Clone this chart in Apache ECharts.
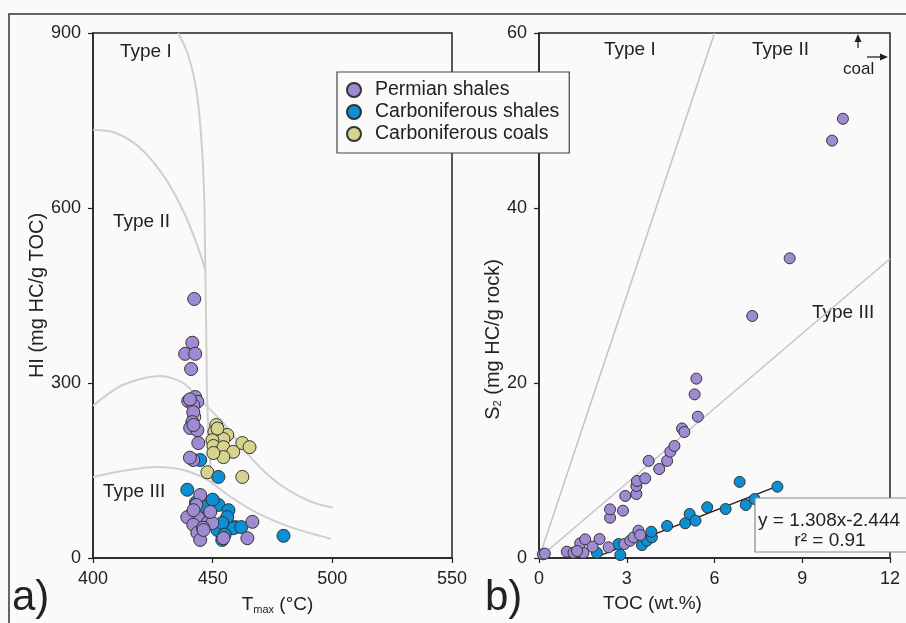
<!DOCTYPE html>
<html><head><meta charset="utf-8">
<script src="https://cdn.jsdelivr.net/npm/echarts@6/dist/echarts.min.js"></script>
<style>html,body{margin:0;padding:0;background:#fafafa}#c{width:906px;height:623px}</style>
</head><body><div id="c"></div>
<script>
// ---- Data ----
const seriesNames = ['Permian shales', 'Carboniferous shales', 'Carboniferous coals'];
const tmaxTicks = [400, 450, 500, 550];
const hiTicks = [0, 300, 600, 900];
const tocTicks = [0, 3, 6, 9, 12];
const s2Ticks = [0, 20, 40, 60];

// Panel a: [Tmax, HI]
const permianTmaxHI = [[442.3,444],[441.5,369],[438.5,350],[442.7,350],[441,324],
  [439.8,269],[442.7,276],[443.6,268],[441.9,262],[440.5,272],[441.9,250],[441.5,233],[440.6,223],
  [443.6,219],[442,228],[444,197],[441.9,168],[440.5,172],
  [444.8,108],[443.2,91],[444,69],[439.4,70],[441.9,57],[443.6,43],[444.8,31],[447.8,60],[449.9,60],
  [449,79],[454.5,34],[464.5,34],[466.6,62],[446,52],[442,82],[446.2,48]];
const carbShaleTmaxHI = [[444.8,168],[452.4,139],[439.4,117],[448.2,93],[452.4,91],[456.6,82],[456.1,70],
  [440.6,72],[447.8,70],[452,48],[459.5,53],[458.6,51],[454,31],[479.6,38],[454,60],[446,88],[450,100],
  [443,95],[455,40],[462,53]];
const carbCoalTmaxHI = [[451.5,228],[450.7,216],[456.1,211],[454.5,204],[449.9,202],[450.3,192],[454.5,190],
  [462.4,197],[465.4,190],[458.6,182],[454.5,173],[450.3,180],[442.3,242],[447.8,147],[462.4,139],[452,222]];

// Panel b: [TOC, S2]
const permianTocS2 = [[0.13,0.42],[0.2,0.5],[0.95,0.72],[1.18,0.6],[1.52,0.6],[1.41,1.68],[1.58,2.13],[1.83,1.3],
  [2.07,2.17],[2.38,1.22],[1.3,0.8],[2.43,4.6],[2.43,5.56],[2.87,5.41],[2.95,7.09],[3.33,7.31],[3.33,8.23],
  [3.35,8.8],[3.63,9.1],[3.75,11.1],[4.11,10.17],[4.38,11.1],[4.49,12.15],[4.63,12.8],[4.89,14.8],[4.97,14.4],
  [5.43,16.15],[5.32,18.7],[5.38,20.5],[7.29,27.66],[8.57,34.25],[10.02,47.7],[10.39,50.2],
  [2.92,1.6],[3.12,1.98],[3.23,2.36],[3.4,3.12],[3.46,2.63]];
const carbShaleTocS2 = [[1.98,0.6],[2.78,0.34],[2.72,1.6],[3.52,1.48],[3.69,1.98],[3.86,2.36],[3.84,3.0],
  [4.38,3.66],[5.0,3.97],[5.15,5.03],[5.35,4.27],[5.75,5.8],[6.86,8.7],[6.38,5.6],[7.07,6.06],[7.37,6.74],[8.15,8.15]];

// Kerogen type boundaries, panel a
const typeIBoundary = [[435.6,900],[439.8,862],[443.2,802],[445.3,717],[446.5,614],[446.9,502],[447.3,391],[447.7,271],[448.6,185],[449.9,125]];
const typeIIBoundary = [[400,734],[409.2,729],[419.7,703],[430.2,651],[438.5,588],[444,531],[446.9,494]];
const upperIIIBoundary = [[400,261],[412.6,297],[428.1,312],[437.7,300],[446.1,266],[454.5,231],[465.8,173],[477.1,129],[489.7,99],[500.1,86]];
const lowerIIIBoundary = [[400,139],[426.8,156],[437.7,151],[447.8,134],[457.4,105],[468.7,77],[482.5,53],[499.3,33]];
// Panel b boundaries
const typeILine = [[0,0],[6,60]];
const typeIIIILine = [[0,0],[12,34.2]];
const regressionLine = [[1.9,1.308*1.9-2.444],[8.0,1.308*8.0-2.444]];

// ---- Chart ----
const FONT = "'Liberation Sans', Arial, sans-serif";
const colors = ['#9f8bd3', '#0b8fd5', '#d6d38f'];
const chart = echarts.init(document.getElementById('c'));

function axisCommon(min, max, interval, gi) {
  return {
    gridIndex: gi, type: 'value', min, max, interval,
    axisLine: {show: true, onZero: false, lineStyle: {color: '#222', width: 1.5}},
    axisTick: {show: true, inside: false, length: 5, lineStyle: {color: '#222', width: 1.2}},
    axisLabel: {color: '#222', fontSize: 18, fontFamily: FONT, margin: 12},
    splitLine: {show: false}
  };
}
function scatter(name, data, xi, color, size) {
  return {type: 'scatter', name, data, xAxisIndex: xi, yAxisIndex: xi, symbolSize: size, z: 5,
    itemStyle: {color, borderColor: '#333', borderWidth: 1, opacity: 1}};
}
function gline(data, xi, width, color, smooth) {
  return {type: 'line', data, xAxisIndex: xi, yAxisIndex: xi, showSymbol: false, symbol: 'none', silent: true,
    smooth, z: 2, lineStyle: {color, width}};
}

const option = {
  backgroundColor: '#fafafa',
  animation: false,
  grid: [
    {left: 93, top: 33, width: 359, height: 525, show: true, borderColor: '#222', borderWidth: 1.5, backgroundColor: 'transparent'},
    {left: 539, top: 33, width: 351, height: 525, show: true, borderColor: '#222', borderWidth: 1.5, backgroundColor: 'transparent'}
  ],
  xAxis: [
    Object.assign(axisCommon(tmaxTicks[0], tmaxTicks[tmaxTicks.length-1], 50, 0), {
      name: '{a|T}{s|max}{a| (°C)}', nameLocation: 'middle', nameGap: 36,
      nameTextStyle: {padding: [0, 0, 0, 10], rich: {a: {fontSize: 19, fontFamily: FONT, color: '#222'}, s: {fontSize: 11, fontFamily: FONT, color: '#222', padding: [10,0,0,0]}}}
    }),
    Object.assign(axisCommon(tocTicks[0], tocTicks[tocTicks.length-1], 3, 1), {
      name: 'TOC (wt.%)', nameLocation: 'middle', nameGap: 36,
      nameTextStyle: {fontSize: 19, fontFamily: FONT, color: '#222', padding: [0, 124, 0, 0]}
    })
  ],
  yAxis: [
    Object.assign(axisCommon(hiTicks[0], hiTicks[hiTicks.length-1], 300, 0), {
      name: 'HI (mg HC/g TOC)', nameLocation: 'middle', nameGap: 24,
      nameTextStyle: {fontSize: 20, fontFamily: FONT, color: '#222', padding: [0, 0, 0, 0]}
    }),
    Object.assign(axisCommon(s2Ticks[0], s2Ticks[s2Ticks.length-1], 20, 1), {
      name: '{a|S}{s|2}{a| (mg HC/g rock)}', nameLocation: 'middle', nameGap: 22,
      nameTextStyle: {padding: [0, 88, 0, 0], rich: {a: {fontSize: 20, fontFamily: FONT, color: '#222'}, s: {fontSize: 11, fontFamily: FONT, color: '#222', padding: [9,0,0,0]}}}
    })
  ],
  legend: {
    data: seriesNames.map(n => ({name: n, icon: 'circle'})),
    orient: 'vertical', left: 337, top: 72, width: 231,
    padding: [8, 10, 9, 9], itemGap: 2, itemWidth: 14, itemHeight: 14,
    backgroundColor: '#fafafa', borderColor: '#444', borderWidth: 1.2,
    textStyle: {fontSize: 19.5, fontFamily: FONT, color: '#222', padding: [0, 0, 0, 9]},
    selectedMode: false, z: 10
  },
  series: [
    gline(typeIBoundary, 0, 2, '#cfcfcf', 0.3),
    gline(typeIIBoundary, 0, 2, '#cfcfcf', 0.3),
    gline(upperIIIBoundary, 0, 2, '#cfcfcf', 0.3),
    gline(lowerIIIBoundary, 0, 2, '#cfcfcf', 0.3),
    gline(typeILine, 1, 1.5, '#c4c4c4', false),
    gline(typeIIIILine, 1, 1.5, '#c4c4c4', false),
    Object.assign(gline(regressionLine, 1, 1.5, '#222', false), {z: 4}),
    scatter(seriesNames[2], carbCoalTmaxHI, 0, colors[2], 13),
    scatter(seriesNames[1], carbShaleTmaxHI, 0, colors[1], 13),
    scatter(seriesNames[0], permianTmaxHI, 0, colors[0], 13),
    scatter(seriesNames[1], carbShaleTocS2, 1, colors[1], 11),
    scatter(seriesNames[0], permianTocS2, 1, colors[0], 11)
  ],
  graphic: [
    {type: 'rect', shape: {x: 9, y: 14, width: 910, height: 620}, style: {fill: 'none', stroke: '#333', lineWidth: 1.5}, z: 1},
    {type: 'text', x: 12, y: 598, style: {text: 'a)', fontSize: 42, fontFamily: FONT, fill: '#222', textVerticalAlign: 'middle'}},
    {type: 'text', x: 485, y: 598, style: {text: 'b)', fontSize: 42, fontFamily: FONT, fill: '#222', textVerticalAlign: 'middle'}},
    {type: 'text', x: 120, y: 52, style: {text: 'Type I', fontSize: 19, fontFamily: FONT, fill: '#222', textVerticalAlign: 'middle'}},
    {type: 'text', x: 113, y: 222, style: {text: 'Type II', fontSize: 19, fontFamily: FONT, fill: '#222', textVerticalAlign: 'middle'}},
    {type: 'text', x: 103, y: 492, style: {text: 'Type III', fontSize: 19, fontFamily: FONT, fill: '#222', textVerticalAlign: 'middle'}},
    {type: 'text', x: 604, y: 50, style: {text: 'Type I', fontSize: 19, fontFamily: FONT, fill: '#222', textVerticalAlign: 'middle'}},
    {type: 'text', x: 752, y: 50, style: {text: 'Type II', fontSize: 19, fontFamily: FONT, fill: '#222', textVerticalAlign: 'middle'}},
    {type: 'text', x: 812, y: 313, style: {text: 'Type III', fontSize: 19, fontFamily: FONT, fill: '#222', textVerticalAlign: 'middle'}},
    {type: 'text', x: 843, y: 69, style: {text: 'coal', fontSize: 17, fontFamily: FONT, fill: '#222', textAlign: 'left', textVerticalAlign: 'middle'}},
    {type: 'line', shape: {x1: 858, y1: 48, x2: 858, y2: 40}, style: {stroke: '#222', lineWidth: 1.3}},
    {type: 'polygon', shape: {points: [[854.5,42],[861.5,42],[858,34]]}, style: {fill: '#222'}},
    {type: 'line', shape: {x1: 867, y1: 57, x2: 882, y2: 57}, style: {stroke: '#222', lineWidth: 1.3}},
    {type: 'polygon', shape: {points: [[880,53.5],[880,60.5],[888,57]]}, style: {fill: '#222'}},
    {type: 'rect', shape: {x: 755, y: 498, width: 170, height: 54}, style: {fill: '#fafafa', stroke: '#888', lineWidth: 1.2}, z: 8},
    {type: 'text', x: 758, y: 521, z: 9, style: {text: 'y = 1.308x-2.444', fontSize: 19, fontFamily: FONT, fill: '#222', textVerticalAlign: 'middle'}},
    {type: 'text', x: 830, y: 541, z: 9, style: {text: 'r² = 0.91', fontSize: 19, fontFamily: FONT, fill: '#222', textAlign: 'center', textVerticalAlign: 'middle'}}
  ]
};
chart.setOption(option);
</script>
</body></html>
